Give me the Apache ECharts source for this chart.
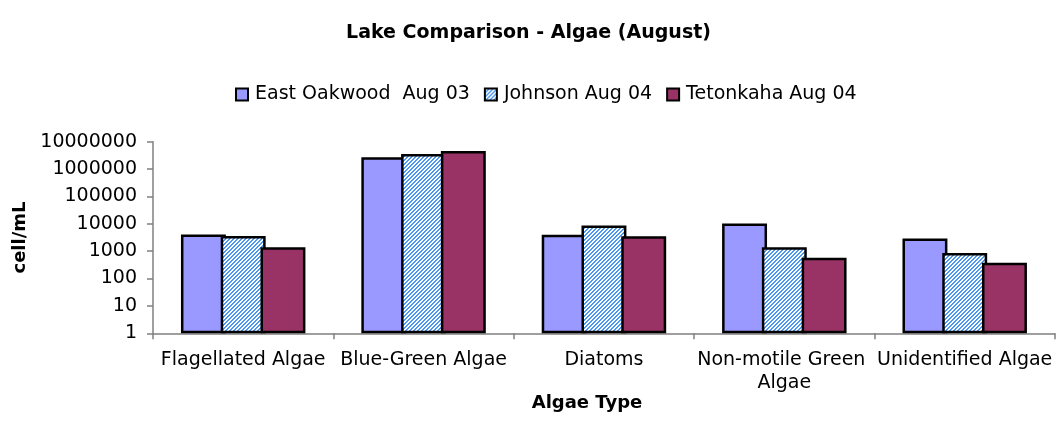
<!DOCTYPE html>
<html>
<head>
<meta charset="utf-8">
<script src="https://cdn.jsdelivr.net/npm/echarts@6/dist/echarts.min.js"></script>
<style>
html,body{margin:0;padding:0;background:#fff;}
#chart{width:1057px;height:440px;}
</style>
</head>
<body>
<div id="chart"></div>
<script>
var categories = ['Flagellated Algae', 'Blue-Green Algae', 'Diatoms', 'Non-motile Green Algae', 'Unidentified Algae'];
var seriesNames = ['East Oakwood  Aug 03', 'Johnson Aug 04', 'Tetonkaha Aug 04'];
var eastOakwood = [4100, 2700000, 4000, 10300, 2900];
var johnson = [3600, 3550000, 8600, 1400, 850];
var tetonkaha = [1380, 4550000, 3500, 570, 375];
var yTicks = [1, 10, 100, 1000, 10000, 100000, 1000000, 10000000];

var FONT = 'DejaVu Sans';

function stripePattern() {
  var c = document.createElement('canvas');
  c.width = 4; c.height = 4;
  var ctx = c.getContext('2d');
  ctx.fillStyle = '#ffffff';
  ctx.fillRect(0, 0, 4, 4);
  ctx.fillStyle = '#4b97f2';
  for (var i = 0; i < 4; i++) {
    ctx.fillRect((3 - i + 4) % 4, i, 1, 1);
    ctx.fillRect((4 - i + 4) % 4, i, 1, 1);
  }
  return { image: c, repeat: 'repeat' };
}

var chart = echarts.init(document.getElementById('chart'), null, { renderer: 'canvas' });

function barSeries(name, data, color) {
  return {
    name: name,
    type: 'bar',
    data: data,
    barGap: '-11.5%',
    barCategoryGap: '31%',
    itemStyle: { color: color, borderColor: '#000', borderWidth: 2.5 },
    emphasis: { disabled: true }
  };
}

var option = {
  animation: false,
  backgroundColor: '#fff',
  textStyle: { fontFamily: FONT, color: '#000' },
  title: {
    text: 'Lake Comparison - Algae (August)',
    left: 'center',
    top: 19,
    textStyle: { fontFamily: FONT, fontSize: 19, fontWeight: 'bold', color: '#000' }
  },
  legend: {
    top: 80,
    left: 230,
    itemWidth: 12,
    itemHeight: 12,
    itemGap: 14,
    icon: 'rect',
    textStyle: { fontFamily: FONT, fontSize: 19, color: '#000', padding: [0, 0, 0, 2] },
    data: seriesNames
  },
  grid: { left: 153, right: -5, top: 141.7, bottom: 106.7, containLabel: false },
  xAxis: {
    type: 'category',
    data: categories,
    axisLine: { lineStyle: { color: '#808080', width: 1.5 } },
    axisTick: { show: true, length: 6, lineStyle: { color: '#808080', width: 1.5 } },
    axisLabel: {
      interval: 0,
      margin: 15,
      color: '#000',
      fontFamily: FONT,
      fontSize: 19,
      lineHeight: 23,
      width: 180,
      overflow: 'break'
    },
    splitLine: { show: false }
  },
  yAxis: {
    type: 'log',
    logBase: 10,
    min: yTicks[0],
    max: yTicks[yTicks.length - 1],
    name: 'cell/mL',
    nameLocation: 'middle',
    nameRotate: 90,
    nameGap: 124,
    nameTextStyle: { fontFamily: FONT, fontSize: 18, fontWeight: 'bold', color: '#000' },
    axisLine: { show: true, lineStyle: { color: '#808080', width: 1.5 } },
    axisTick: { show: true, length: 6, lineStyle: { color: '#808080', width: 1.5 } },
    axisLabel: {
      margin: 16,
      color: '#000',
      fontFamily: FONT,
      fontSize: 19,
      formatter: function (v) { return String(Math.round(v)); }
    },
    splitLine: { show: false },
    minorTick: { show: false }
  },
  graphic: [{
    type: 'text',
    x: 587,
    y: 403,
    style: {
      text: 'Algae Type',
      textAlign: 'center',
      textVerticalAlign: 'middle',
      font: 'bold 18px "' + FONT + '"',
      fill: '#000'
    }
  }],
  series: [
    barSeries(seriesNames[0], eastOakwood, '#9999ff'),
    barSeries(seriesNames[1], johnson, stripePattern()),
    barSeries(seriesNames[2], tetonkaha, '#993366')
  ]
};
chart.setOption(option);
</script>
</body>
</html>
